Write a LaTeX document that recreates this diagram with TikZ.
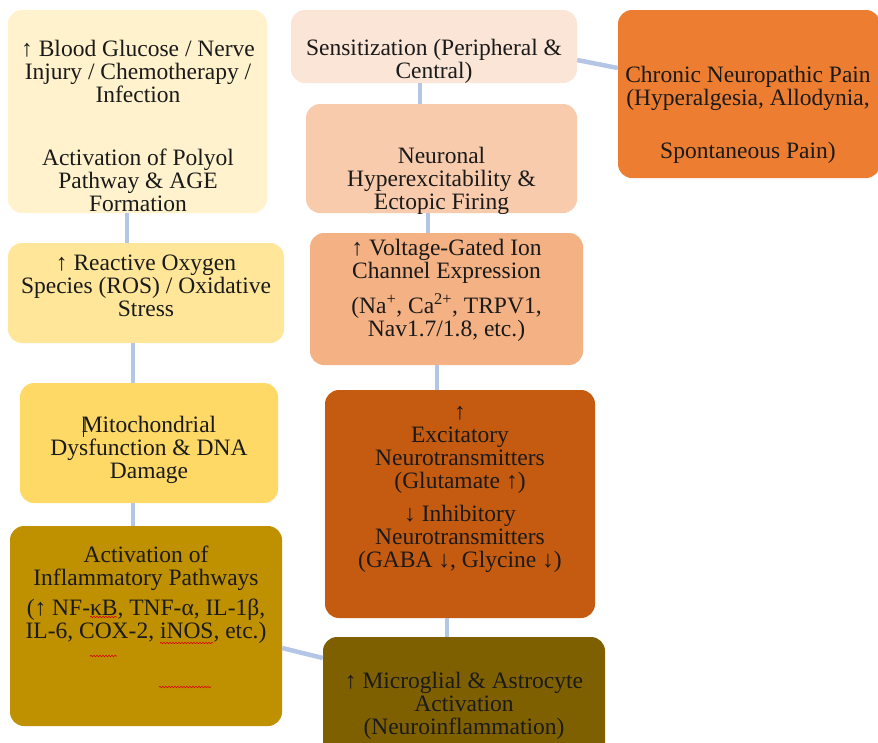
\documentclass[tikz,border=0pt]{standalone}
\usepackage{fontspec}
\setmainfont{Liberation Serif}
\usetikzlibrary{decorations.pathmorphing}
\definecolor{cTL}{HTML}{FFF2CC}
\definecolor{cROS}{HTML}{FFE699}
\definecolor{cMIT}{HTML}{FFD966}
\definecolor{cINF}{HTML}{BF9000}
\definecolor{cMIC}{HTML}{7F6000}
\definecolor{cEXC}{HTML}{C55A11}
\definecolor{cVOL}{HTML}{F4B183}
\definecolor{cNEU}{HTML}{F8CBAD}
\definecolor{cSEN}{HTML}{FBE5D6}
\definecolor{cCHR}{HTML}{ED7D31}
\definecolor{cCON}{HTML}{B4C5E6}
\definecolor{cTXT}{HTML}{1A1A1A}
\tikzset{
  box/.style={rectangle, rounded corners=14pt, draw=none, inner sep=0pt},
  txt/.style={align=center, inner sep=0pt, text=cTXT, font=\fontsize{23.5}{23}\selectfont},
  conn/.style={draw=cCON, line width=4.5pt},
  squig/.style={draw=red!85!black, line width=0.6pt, decorate, decoration={snake, amplitude=0.7pt, segment length=3pt}}
}
\begin{document}
\begin{tikzpicture}[x=1pt,y=-1pt]
\useasboundingbox[fill=white] (0,0) rectangle (878,742);
% boxes
\node[box, fill=cTL,  minimum width=259pt, minimum height=203pt] (tl)   at (137.5,111.5) {};
\node[box, fill=cROS, minimum width=276pt, minimum height=100pt] (ros)  at (146,293) {};
\node[box, fill=cMIT, minimum width=258pt, minimum height=120pt] (mito) at (149,443) {};
\node[box, fill=cINF, minimum width=272pt, minimum height=200pt] (inf)  at (146,626) {};
\node[box, fill=cMIC, minimum width=282pt, minimum height=123pt] (mic)  at (464,698.5) {};
\node[box, fill=cEXC, minimum width=270pt, minimum height=228pt] (exc)  at (460,504) {};
\node[box, fill=cVOL, minimum width=273pt, minimum height=132pt] (volt) at (446.5,299) {};
\node[box, fill=cNEU, minimum width=271pt, minimum height=109pt] (neu)  at (441.5,158.5) {};
\node[box, fill=cSEN, minimum width=286pt, minimum height=73pt]  (sens) at (434,46.5) {};
\node[box, fill=cCHR, minimum width=262pt, minimum height=168pt] (chr)  at (749,94) {};
% connectors
\draw[conn] (tl.south -| 127,0) -- (ros.north -| 127,0);
\draw[conn] (ros.south -| 133,0) -- (mito.north -| 133,0);
\draw[conn] (mito.south -| 133,0) -- (inf.north -| 133,0);
\draw[conn] (inf.east |- 0,648) -- (mic.west |- 0,658);
\draw[conn] (mic.north -| 447,0) -- (exc.south -| 447,0);
\draw[conn] (exc.north -| 437,0) -- (volt.south -| 437,0);
\draw[conn] (volt.north -| 428,0) -- (neu.south -| 428,0);
\draw[conn] (neu.north -| 420,0) -- (sens.south -| 420,0);
\draw[conn] (sens.east |- 0,60) -- (chr.west |- 0,68);
% texts
\node[txt] (tlA) at (138,71.5) {↑ Blood Glucose / Nerve\\Injury / Chemotherapy /\\Infection};
\node[txt] (tlB) at (138,180.5) {Activation of Polyol\\Pathway \& AGE\\Formation};
\node[txt] (rosT) at (146,285.5) {↑ Reactive Oxygen\\Species (ROS) / Oxidative\\Stress};
\node[txt] (mitoT) at (149,450) {Mitochondrial\\Dysfunction \& DNA\\Damage};
\node[txt] (infT) at (146,595) {Activation of\\Inflammatory Pathways\\[7pt](↑ NF-κB, TNF-α, IL-1β,\\IL-6, COX-2, iNOS, etc.)};
\node[txt] (micT) at (464,706) {↑ Microglial \& Astrocyte\\Activation\\(Neuroinflammation)};
\node[txt] (excT) at (460,489.5) {↑\\Excitatory\\Neurotransmitters\\(Glutamate ↑)\\[10pt]↓ Inhibitory\\Neurotransmitters\\(GABA ↓, Glycine ↓)};
\node[txt] (voltT) at (446.5,290.5) {↑ Voltage-Gated Ion\\Channel Expression\\[9pt](Na\textsuperscript{+}, Ca\textsuperscript{2+}, TRPV1,\\Nav1.7/1.8, etc.)};
\node[txt] (neuT) at (441.5,181) {Neuronal\\Hyperexcitability \&\\Ectopic Firing};
\node[txt] (sensT) at (434,61.5) {Sensitization (Peripheral \&\\Central)};
\node[txt] (chrT) at (748,115) {Chronic Neuropathic Pain\\(Hyperalgesia, Allodynia,\\[30pt]Spontaneous Pain)};
% editor artefacts
\draw[cTXT, line width=0.8pt] (83,417) -- (83,437);
\draw[squig] (90,617) -- (117,617);
\draw[squig] (160,643) -- (213,643);
\draw[squig] (90,656) -- (117,656);
\draw[squig] (159,687) -- (211,687);
\end{tikzpicture}
\end{document}
